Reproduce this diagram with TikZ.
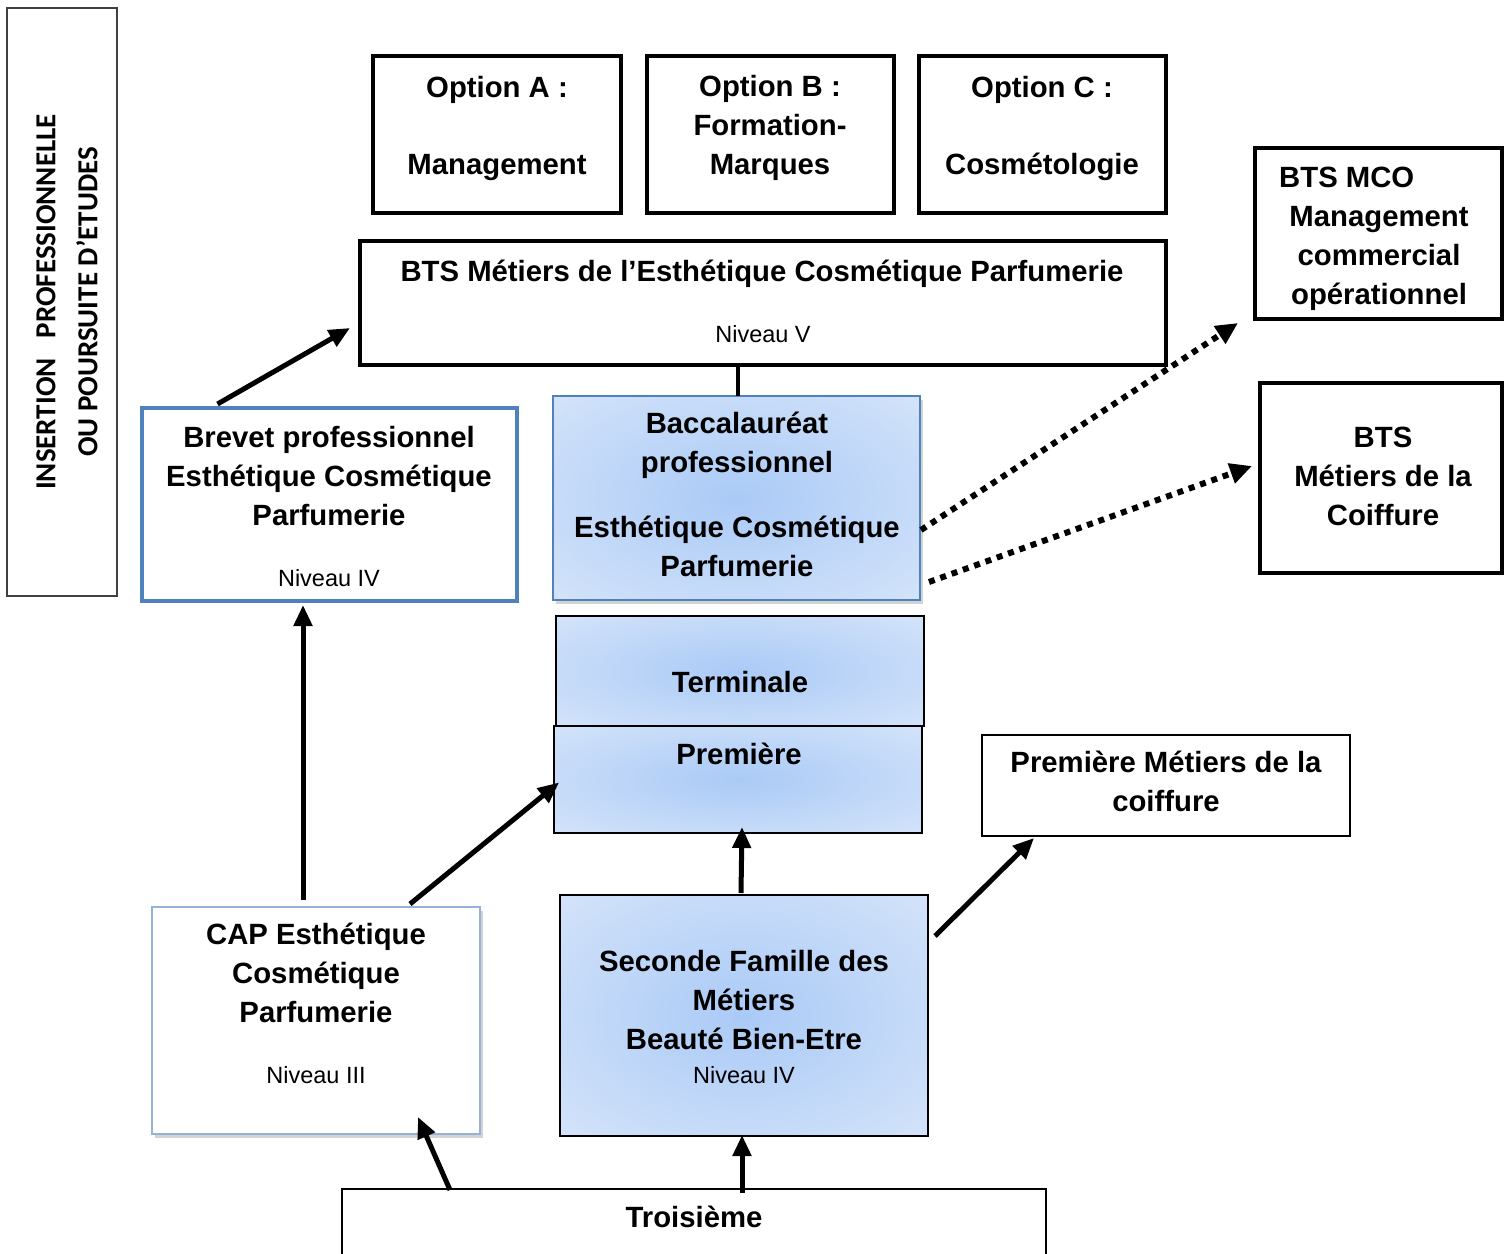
\documentclass[tikz,border=0pt]{standalone}
\usepackage{fontspec}
\setmainfont{Liberation Sans}
\newfontfamily\carlito{Carlito}
\usetikzlibrary{arrows.meta,calc,shadows}
\definecolor{bluebd}{RGB}{79,129,189}
\definecolor{lightbd}{RGB}{149,179,215}
\definecolor{gin}{RGB}{170,202,246}
\definecolor{gout}{RGB}{226,236,251}
\pgfdeclareradialshading{blueglow}{\pgfpoint{0bp}{0bp}}{color(0bp)=(gin); color(48bp)=(gout); color(50bp)=(gout)}
\begin{document}
\begin{tikzpicture}[x=1pt,y=-1pt,
  box/.style={draw, inner sep=0pt, outer sep=0pt},
  thickbox/.style={box, line width=4pt},
  thinbox/.style={box, line width=1.6pt},
  grad/.style={shading=blueglow},
  txt/.style={font=\bfseries\fontsize{29.3}{39}\selectfont, align=center, inner sep=0pt},
  niv/.style={font=\fontsize{23.5}{28}\selectfont, anchor=base, inner sep=0pt},
  arr/.style={line width=5pt, -{Triangle[length=21pt,width=18pt]}},
  dotarr/.style={line width=6pt, dash pattern=on 6pt off 6pt, -{Triangle[length=22pt,width=20pt]}},
  softshadow/.style={drop shadow={shadow xshift=3pt, shadow yshift=-4pt, opacity=.35}}
]
\useasboundingbox (0,0) rectangle (1504,1253);
\clip (0,0) rectangle (1504,1253);

% ---- boxes
\node[box, line width=1.3pt, draw=black!75, minimum width=110pt, minimum height=588pt] (side) at (62,302) {};
\node[thickbox, minimum width=248pt, minimum height=157pt] (optA) at (497,134.5) {};
\node[thickbox, minimum width=247pt, minimum height=157pt] (optB) at (770.5,134.5) {};
\node[thickbox, minimum width=247pt, minimum height=157pt] (optC) at (1042.5,134.5) {};
\node[thickbox, minimum width=806pt, minimum height=124pt] (bts) at (763,303) {};
\node[thickbox, minimum width=247pt, minimum height=171pt] (mco) at (1378.5,233.5) {};
\node[thickbox, minimum width=242pt, minimum height=190pt] (coif) at (1381,478) {};
\node[box, draw=bluebd, line width=3.5pt, fill=white, minimum width=375pt, minimum height=193pt] (brevet) at (329.5,504.5) {};
\node[box, draw=bluebd, line width=2.5pt, grad, softshadow, minimum width=367pt, minimum height=204pt] (bac) at (736.5,498) {};
\node[thinbox, grad, minimum width=368pt, minimum height=110pt] (term) at (740,671) {};
\node[thinbox, grad, minimum width=368pt, minimum height=107pt] (prem) at (738,779.5) {};
\node[thinbox, fill=white, minimum width=368pt, minimum height=101pt] (premc) at (1166,785.5) {};
\node[box, draw=lightbd, line width=2.5pt, fill=white, softshadow, minimum width=328pt, minimum height=227pt] (cap) at (316,1020.5) {};
\node[thinbox, grad, minimum width=368pt, minimum height=241pt] (sec) at (744,1015.5) {};
\node[thinbox, fill=white, minimum width=704pt, minimum height=111pt] (trois) at (694,1244.5) {};

% ---- texts
\node[rotate=90, align=center, inner sep=0pt, font=\carlito\bfseries\fontsize{29}{42}\selectfont] (side-t) at (67,302)
  {INSERTION\hspace{20pt}PROFESSIONNELLE\\OU POURSUITE D’ETUDES};
\node[txt] (optA-t) at (497,128.1) {\strut Option A :\\[38pt]\strut Management};
\node[txt] (optB-t) at (770,128.1) {\strut Option B :\\\strut Formation-\\\strut Marques};
\node[txt] (optC-t) at (1042,128.1) {\strut Option C :\\[38pt]\strut Cosmétologie};
\node[txt] (bts-t) at (762,273.6) {\strut BTS Métiers de l’Esthétique Cosmétique Parfumerie};
\node[niv] (bts-n) at (763,342.4) {Niveau V};
\node[txt, anchor=west] (mco-t1) at (1279,179.6) {\strut BTS MCO};
\node[txt] (mco-t2) at (1379,257.6) {\strut Management\\\strut commercial\\\strut opérationnel};
\node[txt] (coif-t) at (1383,479.1) {\strut BTS\\\strut Métiers de la\\\strut Coiffure};
\node[txt] (brevet-t) at (329,479.1) {\strut Brevet professionnel\\\strut Esthétique Cosmétique\\\strut Parfumerie};
\node[niv] (brevet-n) at (329,586.4) {Niveau IV};
\node[txt] (bac-t) at (737,497.1) {\strut Baccalauréat\\\strut professionnel\\[26pt]\strut Esthétique Cosmétique\\\strut Parfumerie};
\node[txt] (term-t) at (740,684.6) {\strut Terminale};
\node[txt] (prem-t) at (739,756.6) {\strut Première};
\node[txt] (premc-t) at (1166,784.1) {\strut Première Métiers de la\\\strut coiffure};
\node[txt] (cap-t) at (316,976.1) {\strut CAP Esthétique\\\strut Cosmétique\\\strut Parfumerie};
\node[niv] (cap-n) at (316,1083.4) {Niveau III};
\node[txt] (sec-t) at (744,1002.6) {\strut Seconde Famille des\\\strut Métiers\\\strut Beauté Bien-Etre};
\node[niv] (sec-n) at (744,1083.4) {Niveau IV};
\node[txt] (trois-t) at (694,1219.6) {\strut Troisième};

% ---- connectors
\draw[line width=3.5pt] ([xshift=-25pt]bts.south) -- ([xshift=1.5pt]bac.north);
\draw[arr] ([xshift=-112pt,yshift=4pt]brevet.north) -- ([xshift=-10pt,yshift=-25pt]bts.west);
\draw[arr] ([xshift=-13pt,yshift=7pt]cap.north) -- ([xshift=-26.5pt,yshift=-4pt]brevet.south);
\draw[arr] ([xshift=94pt,yshift=3pt]cap.north) -- ([xshift=5pt,yshift=-3pt]prem.west);
\draw[arr] ([xshift=-3pt,yshift=2pt]sec.north) -- ([xshift=4pt,yshift=6pt]prem.south);
\draw[arr] ([xshift=7pt,yshift=79.5pt]sec.east) -- ([xshift=-132pt,yshift=-2pt]premc.south);
\draw[arr] ([xshift=-244pt,yshift=-1pt]trois.north) -- ([xshift=102pt,yshift=17pt]cap.south);
\draw[arr] ([xshift=48pt,yshift=-4pt]trois.north) -- ([xshift=-2pt,yshift=1pt]sec.south);
\draw[dotarr] ([xshift=1pt,yshift=-32pt]bac.east) -- ([xshift=-17pt,yshift=-4pt]mco.south west);
\draw[dotarr] ([xshift=9pt,yshift=-84pt]bac.east) -- ([xshift=-8pt,yshift=12pt]coif.west);
\end{tikzpicture}
\end{document}
